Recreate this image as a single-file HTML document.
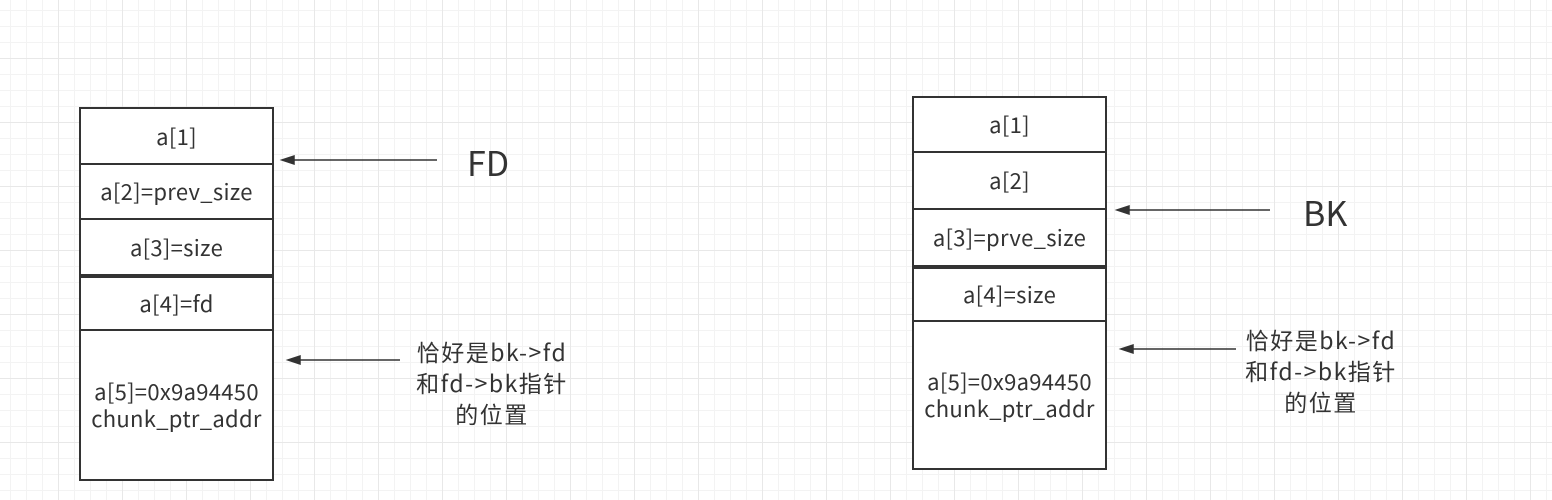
<!DOCTYPE html>
<html><head><meta charset="utf-8"><style>
body{margin:0;width:1552px;height:500px;overflow:hidden;background:#fff;
background-image:linear-gradient(#e8e8e8 1px,transparent 1px),linear-gradient(90deg,#e8e8e8 1px,transparent 1px),linear-gradient(#f3f3f3 1px,transparent 1px),linear-gradient(90deg,#f3f3f3 1px,transparent 1px);
background-size:64px 64px,64px 64px,16px 16px,16px 16px;background-position:-6px -6px;
font-family:"Noto Sans CJK SC",sans-serif;color:#333;position:relative}
.c{position:absolute;border:2px solid #333;background:#fff;box-sizing:border-box;display:flex;align-items:center;justify-content:center;text-align:center;font-size:22px;line-height:27px;letter-spacing:0.3px}
.t{position:absolute;text-align:center;font-size:23px;line-height:31px;white-space:nowrap;letter-spacing:1.5px}
</style></head><body>
<div class="c" style="left:79px;top:107px;width:195px;height:58px">a[1]</div>
<div class="c" style="left:79px;top:163px;width:195px;height:57px">a[2]=prev_size</div>
<div class="c" style="left:79px;top:218px;width:195px;height:58px">a[3]=size</div>
<div class="c" style="left:79px;top:276px;width:195px;height:55px">a[4]=fd</div>
<div class="c" style="left:79px;top:329px;width:195px;height:152px">a[5]=0x9a94450<br>chunk_ptr_addr</div>

<div class="c" style="left:912px;top:96px;width:195px;height:57px">a[1]</div>
<div class="c" style="left:912px;top:151px;width:195px;height:59px">a[2]</div>
<div class="c" style="left:912px;top:208px;width:195px;height:59px">a[3]=prve_size</div>
<div class="c" style="left:912px;top:267px;width:195px;height:55px">a[4]=size</div>
<div class="c" style="left:912px;top:320px;width:195px;height:150px">a[5]=0x9a94450<br>chunk_ptr_addr</div>

<svg width="1552" height="500" style="position:absolute;left:0;top:0">
<g stroke="#333" stroke-width="1.5" fill="#333">
<line x1="437" y1="160" x2="292" y2="160"/><polygon points="282,160 294,156 294,164"/>
<line x1="400" y1="360" x2="298" y2="360"/><polygon points="288,360 300,356 300,364"/>
<line x1="1270" y1="210" x2="1127" y2="210"/><polygon points="1117,210 1129,206 1129,214"/>
<line x1="1236" y1="349" x2="1131" y2="349"/><polygon points="1121,349 1133,345 1133,353"/>
</g></svg>
<div class="t" style="left:467px;top:140px;font-size:34px;line-height:44px;letter-spacing:0">FD</div>
<div class="t" style="left:1303px;top:190px;font-size:34px;line-height:44px;letter-spacing:0">BK</div>
<div class="t" style="left:400px;top:336px;width:184px">恰好是bk-&gt;fd<br>和fd-&gt;bk指针<br>的位置</div>
<div class="t" style="left:1232px;top:324px;width:178px">恰好是bk-&gt;fd<br>和fd-&gt;bk指针<br>的位置</div>
</body></html>
